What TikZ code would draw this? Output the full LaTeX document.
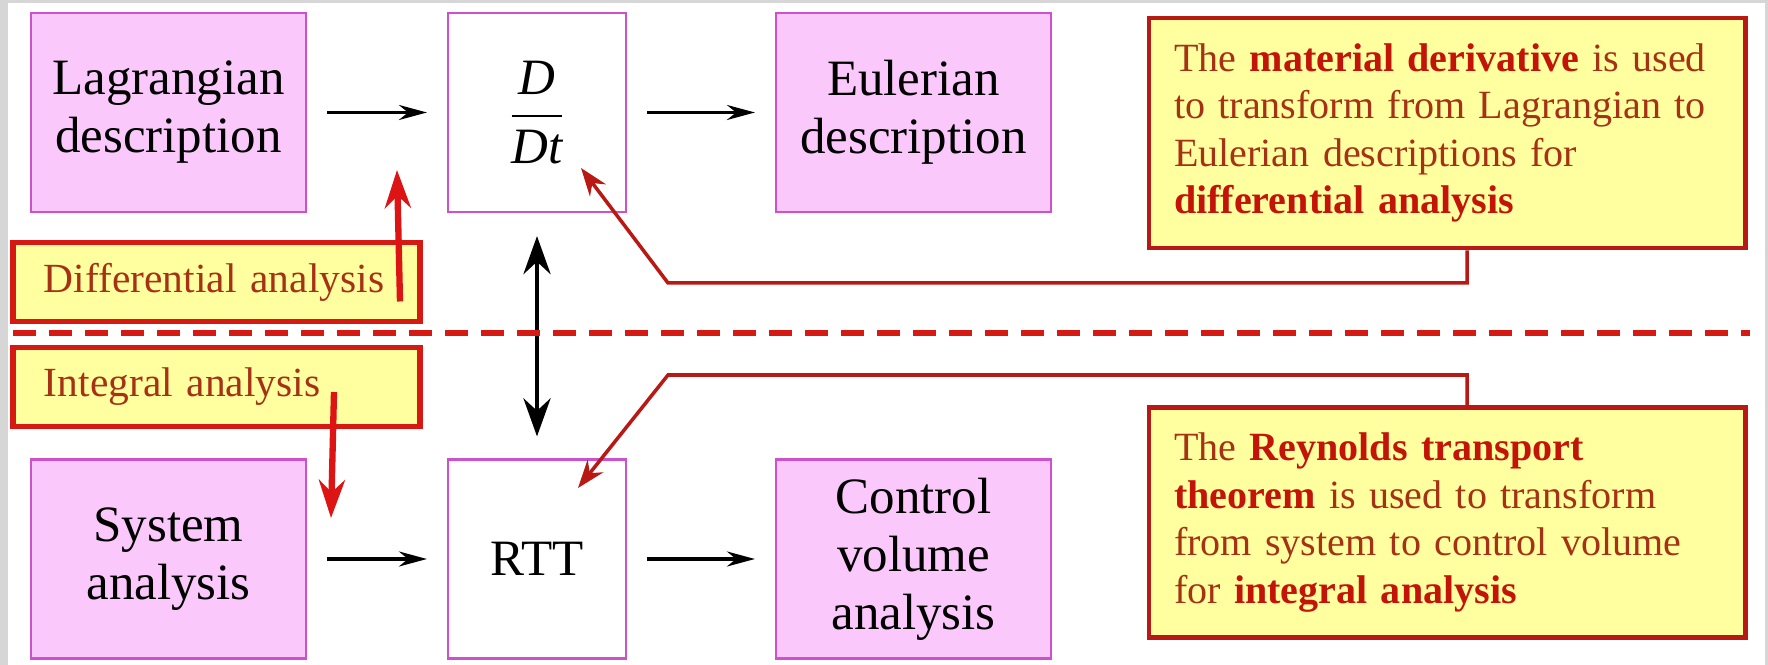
\documentclass[tikz,border=0pt]{standalone}
\usepackage{fontspec}
\setmainfont{Liberation Serif}
\usepackage{amsmath}
\usepackage{tikz}
\usetikzlibrary{arrows.meta,positioning,calc}
\usepackage{xcolor}
\definecolor{framegray}{RGB}{214,214,214}
\definecolor{boxpink}{RGB}{250,200,250}
\definecolor{boxline}{RGB}{205,80,205}
\definecolor{noteyellow}{RGB}{255,255,160}
\definecolor{notered}{RGB}{185,25,20}
\definecolor{tagred}{RGB}{215,25,20}
\definecolor{arrred}{RGB}{220,20,20}
\definecolor{notetext}{RGB}{165,50,20}
\definecolor{boldred}{RGB}{195,20,10}
\newcommand{\hl}[1]{\textbf{\color{boldred}#1}}
\tikzset{
	desc/.style={draw=boxline,fill=boxpink,line width=0.6pt,align=center,font=\fontsize{14.5}{16.5}\selectfont,minimum width=2.75cm,minimum height=1.99cm,inner sep=0pt},
	op/.style={desc,fill=white,minimum width=1.78cm},
	tag/.style={draw=tagred,fill=noteyellow,line width=1.7pt,text=notetext,font=\fontsize{11.8}{13.5}\selectfont,text width=3.45cm,inner xsep=0.31cm,minimum height=0.79cm,align=left},
	note/.style={draw=notered,fill=noteyellow,line width=1.4pt,text=notetext,font=\fontsize{11.4}{13.5}\selectfont,text width=5.46cm,inner xsep=0.25cm,minimum height=2.30cm,align=left},
	arr/.style={-{Stealth[length=0.28cm,width=0.15cm]},line width=0.9pt,shorten <=0.2cm,shorten >=0.2cm},
	dbl/.style={{Stealth[length=0.38cm,width=0.27cm]}-{Stealth[length=0.38cm,width=0.27cm]},line width=1.4pt},
	redarr/.style={-{Stealth[length=0.38cm,width=0.26cm]},line width=1.8pt,draw=arrred},
	callarr/.style={-{Stealth[length=0.28cm,width=0.2cm]},line width=1pt,draw=notered}
}
\begin{document}
\begin{tikzpicture}
	\useasboundingbox (0,0) rectangle (17.68,-6.65);
	\fill[framegray] (0,0) rectangle (17.68,-6.65);
	\fill[white] (0.08,-0.03) rectangle (17.65,-6.65);
	% descriptions and operators
	\node[desc] (lag) at (1.685,-1.125) {Lagrangian\\description};
	\node[op] (ddt) at (5.37,-1.125) {$\dfrac{\textit{D}}{\textit{Dt}}$};
	\node[desc] (eul) at (9.135,-1.125) {Eulerian\\description};
	\node[desc] (sys) at (1.685,-5.59) {System\\analysis};
	\node[op] (rtt) at (5.37,-5.59) {RTT};
	\node[desc] (cv) at (9.135,-5.59) {Control\\volume\\analysis};
	\foreach \a/\b in {lag/ddt,ddt/eul,sys/rtt,rtt/cv}
		\draw[arr] (\a) -- (\b);
	\draw[dbl,shorten <=0.23cm,shorten >=0.22cm] (ddt) -- (rtt);
	% divider
	\draw[draw=tagred,line width=1.7pt,dash pattern=on 0.23cm off 0.13cm] (0.13,-3.33) -- (17.50,-3.33);
	% analysis tags
	\node[tag] (diff) at (2.165,-2.82) {Differential analysis};
	\node[tag] (integ) at (2.165,-3.87) {Integral analysis};
	\coordinate (upTip) at (3.97,-1.70);
	\coordinate (downTip) at (3.31,-5.18);
	\draw[redarr] ([xshift=-0.23cm,yshift=0.23cm]diff.south east) -- (upTip);
	\draw[redarr] ([xshift=-0.89cm,yshift=-0.05cm]integ.east) -- (downTip);
	% callouts
	\node[note] (note1) at (14.47,-1.33) {The \hl{material derivative} is used\\to transform from Lagrangian to\\Eulerian descriptions for\\\hl{differential analysis}};
	\node[note] (note2) at (14.47,-5.225) {The \hl{Reynolds transport}\\\hl{theorem} is used to transform\\from system to control volume\\for \hl{integral analysis}};
	\coordinate (bendA) at (6.68,-2.83);
	\coordinate (tipA) at (5.81,-1.68);
	\coordinate (bendB) at (6.68,-3.75);
	\coordinate (tipB) at (5.78,-4.88);
	\draw[callarr] ([xshift=0.2cm]note1.south) |- (bendA) -- (tipA);
	\draw[callarr] ([xshift=0.2cm]note2.north) |- (bendB) -- (tipB);
\end{tikzpicture}
\end{document}
